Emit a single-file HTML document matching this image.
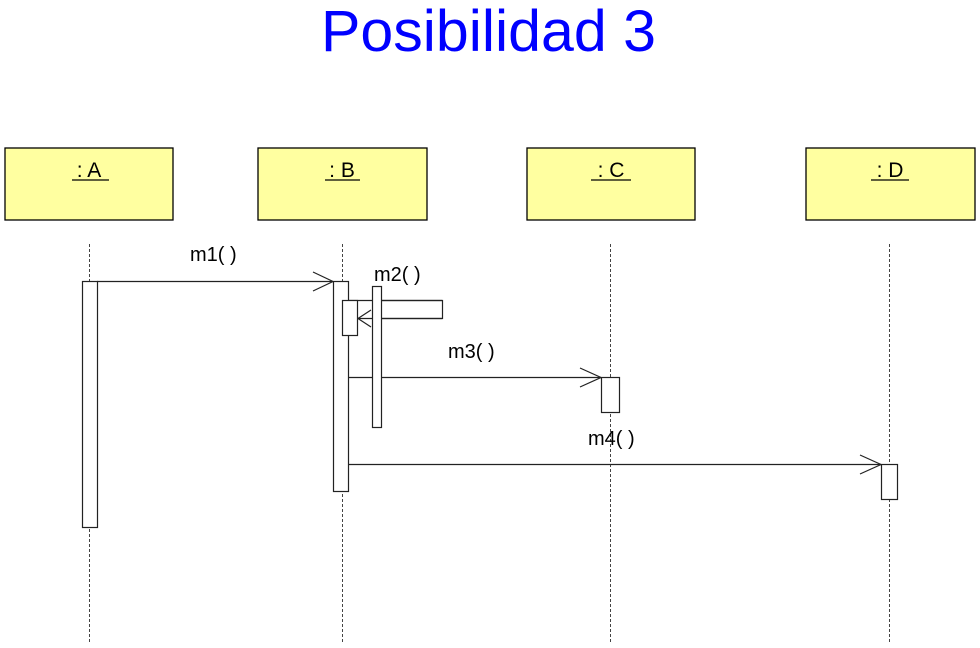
<!DOCTYPE html>
<html><head><meta charset="utf-8"><style>html,body{margin:0;padding:0;background:#fff;}svg{display:block}</style></head>
<body>
<svg width="980" height="648" viewBox="0 0 980 648" xmlns="http://www.w3.org/2000/svg" font-family="Liberation Sans, Arial, sans-serif">
<text x="321" y="51" font-size="58" fill="#0000ff" textLength="335" lengthAdjust="spacingAndGlyphs">Posibilidad 3</text>
<g fill="#ffffa0" stroke="#000" stroke-width="1.3">
<rect x="5" y="148" width="168" height="72"/>
<rect x="258" y="148" width="169" height="72"/>
<rect x="527" y="148" width="168" height="72"/>
<rect x="806" y="148" width="169" height="72"/>
</g>
<g font-size="21" text-anchor="middle" fill="#000">
<text x="89" y="177">: A</text>
<text x="342" y="177">: B</text>
<text x="611" y="177">: C</text>
<text x="890" y="177">: D</text>
</g>
<g stroke="#000" stroke-width="1.3">
<line x1="72" y1="180" x2="109" y2="180"/>
<line x1="325" y1="180" x2="360" y2="180"/>
<line x1="591" y1="180" x2="631" y2="180"/>
<line x1="871" y1="180" x2="909" y2="180"/>
</g>
<g stroke="#444" stroke-width="1" stroke-dasharray="3,2">
<line x1="89.5" y1="244" x2="89.5" y2="642"/>
<line x1="342.5" y1="244" x2="342.5" y2="642"/>
<line x1="610.5" y1="244" x2="610.5" y2="642"/>
<line x1="889.5" y1="244" x2="889.5" y2="642"/>
</g>
<g fill="#fff" stroke="#222" stroke-width="1.2">
<rect x="82.5" y="281.5" width="15" height="246"/>
<rect x="333.5" y="281.5" width="15" height="210"/>
</g>
<g stroke="#222" stroke-width="1.2" fill="none">
<line x1="97" y1="281.5" x2="333" y2="281.5"/>
<polyline points="313,272 333,281.5 313,291"/>
<polyline points="348,300.5 442.5,300.5 442.5,318.5 357,318.5"/>
<polyline points="371,310 358,318.5 371,327"/>
<line x1="348" y1="377.5" x2="601" y2="377.5"/>
<polyline points="580,368 601,377.5 580,387"/>
<line x1="348" y1="464.5" x2="881" y2="464.5"/>
<polyline points="860,455 881,464.5 860,474"/>
</g>
<g fill="#fff" stroke="#222" stroke-width="1.2">
<rect x="342.5" y="300.5" width="15" height="35"/>
<rect x="372.5" y="286.5" width="9" height="141"/>
<rect x="601.5" y="377.5" width="18" height="35"/>
<rect x="881.5" y="464.5" width="16" height="35"/>
</g>
<line x1="382" y1="300.5" x2="442" y2="300.5" stroke="#222" stroke-width="1.2"/>
<line x1="382" y1="318.5" x2="442" y2="318.5" stroke="#222" stroke-width="1.2"/>
<g font-size="20" fill="#000">
<text x="190" y="261">m1( )</text>
<text x="374" y="281">m2( )</text>
<text x="448" y="358">m3( )</text>
<text x="588" y="445">m4( )</text>
</g>
</svg>
</body></html>
